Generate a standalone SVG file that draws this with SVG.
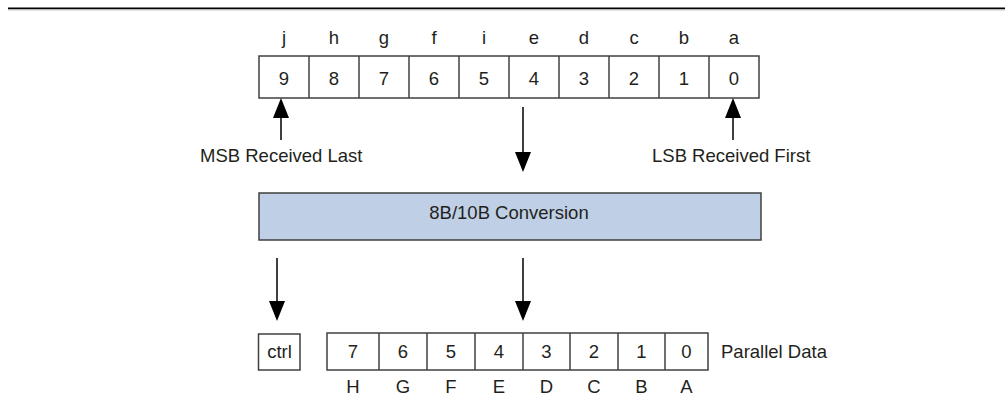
<svg xmlns="http://www.w3.org/2000/svg" width="1005" height="411" viewBox="0 0 1005 411">
<style>
  text { font-family: "Liberation Sans", Arial, sans-serif; font-size: 18.5px; fill: #231f20; }
  .c { text-anchor: middle; }
  .cell { fill: #ffffff; stroke: #404040; stroke-width: 1.5; }
  .conv { fill: #bfd0e6; stroke: #404040; stroke-width: 1.5; }
  .wire { stroke: #000000; stroke-width: 1.5; fill: none; }
  .head { fill: #000000; }
</style>
<rect width="1005" height="411" fill="#ffffff"/>
<g id="rule">
  <line x1="8" y1="8.3" x2="1005" y2="8.3" stroke="#000000" stroke-width="1.6"/>
  <line x1="8" y1="9.8" x2="1005" y2="9.8" stroke="#9a9a9a" stroke-width="1"/>
</g>
<g id="encoded-bits">
  <rect class="cell" x="259" y="56" width="500" height="42"/>
  <line class="cell" x1="309" y1="56" x2="309" y2="98"/>
  <line class="cell" x1="359" y1="56" x2="359" y2="98"/>
  <line class="cell" x1="409" y1="56" x2="409" y2="98"/>
  <line class="cell" x1="459" y1="56" x2="459" y2="98"/>
  <line class="cell" x1="509" y1="56" x2="509" y2="98"/>
  <line class="cell" x1="559" y1="56" x2="559" y2="98"/>
  <line class="cell" x1="609" y1="56" x2="609" y2="98"/>
  <line class="cell" x1="659" y1="56" x2="659" y2="98"/>
  <line class="cell" x1="709" y1="56" x2="709" y2="98"/>
  <text class="c" x="284" y="44">j</text>
  <text class="c" x="334" y="44">h</text>
  <text class="c" x="384" y="44">g</text>
  <text class="c" x="434" y="44">f</text>
  <text class="c" x="484" y="44">i</text>
  <text class="c" x="534" y="44">e</text>
  <text class="c" x="584" y="44">d</text>
  <text class="c" x="634" y="44">c</text>
  <text class="c" x="684" y="44">b</text>
  <text class="c" x="734" y="44">a</text>
  <text class="c" x="284" y="84.5">9</text>
  <text class="c" x="334" y="84.5">8</text>
  <text class="c" x="384" y="84.5">7</text>
  <text class="c" x="434" y="84.5">6</text>
  <text class="c" x="484" y="84.5">5</text>
  <text class="c" x="534" y="84.5">4</text>
  <text class="c" x="584" y="84.5">3</text>
  <text class="c" x="634" y="84.5">2</text>
  <text class="c" x="684" y="84.5">1</text>
  <text class="c" x="734" y="84.5">0</text>
</g>
<g id="msb-label"><text x="200" y="162">MSB Received Last</text></g>
<g id="lsb-label"><text x="652" y="162">LSB Received First</text></g>
<g id="conversion">
  <rect class="conv" x="259" y="193" width="502" height="47"/>
  <text class="c" x="509" y="219">8B/10B Conversion</text>
</g>
<g id="ctrl">
  <rect class="cell" x="258.5" y="334" width="41.5" height="36"/>
  <text class="c" x="279.5" y="358">ctrl</text>
</g>
<g id="parallel-data">
  <rect class="cell" x="327" y="333" width="381" height="37"/>
  <line class="cell" x1="379" y1="333" x2="379" y2="370"/>
  <line class="cell" x1="427" y1="333" x2="427" y2="370"/>
  <line class="cell" x1="475" y1="333" x2="475" y2="370"/>
  <line class="cell" x1="523" y1="333" x2="523" y2="370"/>
  <line class="cell" x1="570" y1="333" x2="570" y2="370"/>
  <line class="cell" x1="618" y1="333" x2="618" y2="370"/>
  <line class="cell" x1="665" y1="333" x2="665" y2="370"/>
  <text class="c" x="353" y="358">7</text>
  <text class="c" x="403" y="358">6</text>
  <text class="c" x="451" y="358">5</text>
  <text class="c" x="499" y="358">4</text>
  <text class="c" x="546.5" y="358">3</text>
  <text class="c" x="594" y="358">2</text>
  <text class="c" x="641.5" y="358">1</text>
  <text class="c" x="686.5" y="358">0</text>
  <text class="c" x="353" y="393">H</text>
  <text class="c" x="403" y="393">G</text>
  <text class="c" x="451" y="393">F</text>
  <text class="c" x="499" y="393">E</text>
  <text class="c" x="546.5" y="393">D</text>
  <text class="c" x="594" y="393">C</text>
  <text class="c" x="641.5" y="393">B</text>
  <text class="c" x="686.5" y="393">A</text>
  <text x="721" y="358">Parallel Data</text>
</g>
<g id="connectors">
  <line class="wire" x1="281" y1="140" x2="281" y2="116"/>
  <polygon class="head" points="281,98 273,118 289,118"/>
  <line class="wire" x1="733" y1="140" x2="733" y2="116"/>
  <polygon class="head" points="733,98 725,118 741,118"/>
  <line class="wire" x1="523" y1="107" x2="523" y2="155"/>
  <polygon class="head" points="523,172 515,152 531,152"/>
  <line class="wire" x1="277" y1="258" x2="277" y2="304"/>
  <polygon class="head" points="277,321 269,301 285,301"/>
  <line class="wire" x1="523" y1="258" x2="523" y2="304"/>
  <polygon class="head" points="523,321 515,301 531,301"/>
</g>
</svg>
